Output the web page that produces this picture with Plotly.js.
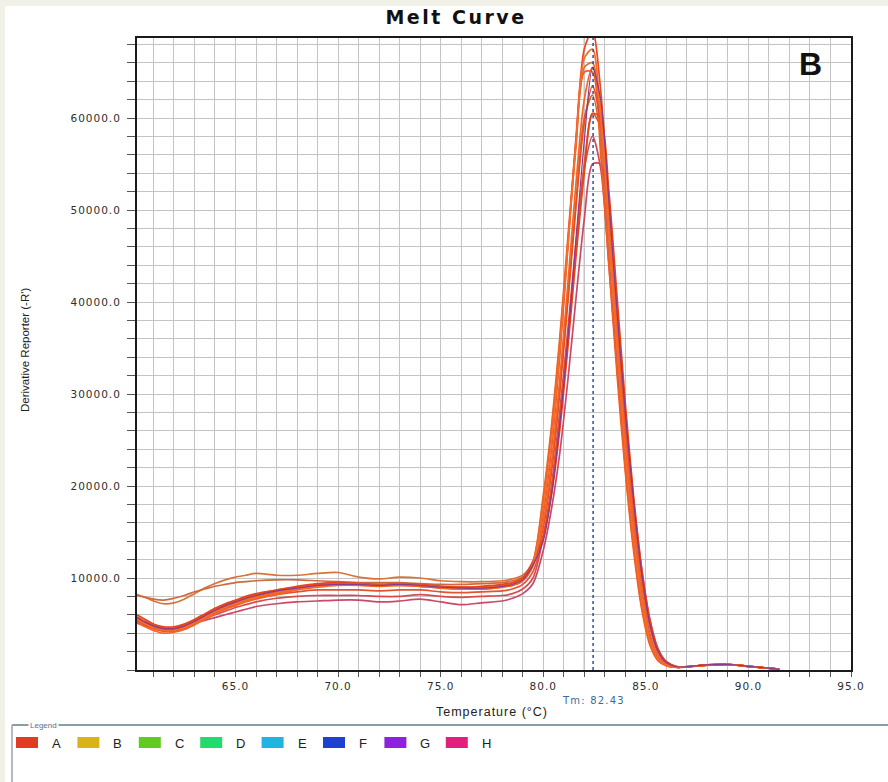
<!DOCTYPE html>
<html><head><meta charset="utf-8">
<script src="https://cdn.plot.ly/plotly-3.0.1.min.js"></script>
<style>html,body{margin:0;padding:0;background:#fff;} #chart{width:888px;height:782px;}</style>
</head><body><div id="chart"></div>
<script>
// Temperature grid (°C)
const temperature = [60.2, 60.6, 61.0, 61.5, 62.0, 62.5, 63.0, 63.5, 64.0, 64.5, 65.0, 65.5, 66.0, 67, 68, 69, 70, 71, 72, 73, 74, 75, 76, 77, 78, 78.5, 79.0, 79.5,
  80.0, 80.4, 80.8, 81.2, 81.6, 82.0, 82.4, 82.8, 83.2, 83.6, 84.0, 84.4, 84.8, 85.2, 85.6, 86.0, 86.5, 87, 88, 89, 90, 91, 91.5];

// Derivative reporter (-R') per well
const wellU1 = [8200, 7900, 7500, 7200, 7300, 7700, 8300, 8900, 9400, 9800, 10100, 10300, 10500, 10300, 10300, 10500, 10600, 10100, 9900, 10100, 10000, 9700, 9600, 9600, 9700, 9900, 10300, 11800,
  19000, 26500, 36000, 47000, 57500, 65500, 66000, 57000, 45000, 33000, 22000, 13500, 7000, 2900, 1100, 500, 300, 350, 550, 600, 400, 200, 60];
const wellU2 = [8100, 7900, 7700, 7600, 7800, 8100, 8500, 8800, 9100, 9300, 9500, 9600, 9700, 9800, 9800, 9700, 9600, 9500, 9500, 9500, 9400, 9300, 9300, 9400, 9500, 9700, 10100, 11600,
  15800, 21800, 30500, 40500, 51000, 60000, 62500, 58000, 47000, 35500, 24500, 15500, 8500, 3600, 1400, 600, 300, 350, 550, 600, 400, 200, 60];
const wellM1 = [5600, 5100, 4700, 4400, 4400, 4700, 5200, 5800, 6400, 6900, 7300, 7700, 8000, 8500, 8900, 9200, 9300, 9300, 9200, 9300, 9200, 9000, 8900, 8900, 9100, 9300, 9800, 11500,
  17000, 24000, 34000, 46000, 58000, 67500, 69500, 63000, 50000, 37000, 25500, 16000, 8500, 3600, 1400, 550, 300, 350, 550, 600, 400, 200, 60];
const wellM2 = [5800, 5300, 4900, 4600, 4600, 4900, 5400, 6000, 6600, 7100, 7500, 7900, 8200, 8700, 9000, 9300, 9400, 9400, 9300, 9400, 9300, 9100, 9000, 9000, 9200, 9400, 9900, 11700,
  18500, 26000, 35500, 46500, 57000, 65000, 65000, 56000, 44000, 32000, 21500, 13000, 6600, 2700, 1000, 450, 280, 330, 520, 580, 380, 180, 50];
const wellM3 = [5400, 4900, 4500, 4200, 4200, 4500, 5000, 5600, 6200, 6700, 7100, 7500, 7800, 8300, 8800, 9100, 9300, 9300, 9200, 9200, 9100, 8900, 8800, 8800, 9000, 9200, 9700, 11400,
  15500, 21500, 30000, 40000, 50500, 59500, 63500, 59500, 48000, 36000, 25000, 16000, 8800, 3800, 1500, 600, 300, 350, 550, 600, 400, 200, 60];
const wellM4 = [5200, 4700, 4300, 4000, 4100, 4400, 4900, 5500, 6100, 6600, 7000, 7400, 7700, 8200, 8700, 9000, 9200, 9200, 9100, 9200, 9100, 8900, 8800, 8800, 9000, 9200, 9700, 11300,
  16000, 22500, 31500, 42000, 53000, 62000, 65500, 61000, 49000, 36500, 25000, 16000, 8700, 3700, 1500, 600, 300, 350, 550, 600, 400, 200, 60];
const wellM5 = [6000, 5500, 5000, 4700, 4700, 5000, 5500, 6100, 6700, 7200, 7600, 8000, 8300, 8700, 9100, 9400, 9500, 9400, 9300, 9400, 9300, 9100, 9000, 9100, 9300, 9500, 10000, 11800,
  14500, 19000, 26000, 35000, 45000, 54000, 60500, 60000, 52000, 40500, 29000, 19000, 11000, 5400, 2200, 900, 380, 360, 540, 600, 400, 200, 60];
const wellM6 = [5500, 5000, 4600, 4300, 4300, 4600, 5100, 5700, 6300, 6800, 7200, 7600, 7900, 8400, 8800, 9100, 9300, 9300, 9200, 9300, 9200, 9000, 8800, 8900, 9100, 9300, 9800, 11500,
  17500, 24500, 34500, 46000, 57500, 66500, 67500, 60000, 47500, 35000, 23500, 14500, 7800, 3200, 1200, 500, 300, 340, 540, 600, 400, 200, 60];
const wellL1 = [5100, 4800, 4600, 4500, 4600, 4800, 5100, 5400, 5700, 6000, 6300, 6600, 6900, 7200, 7400, 7500, 7600, 7600, 7400, 7500, 7700, 7400, 7100, 7300, 7500, 7800, 8300, 9400,
  13000, 17500, 23500, 31500, 40500, 49000, 55000, 55000, 48000, 37500, 27500, 18500, 11000, 5500, 2300, 900, 380, 360, 540, 600, 400, 200, 60];
const wellL2 = [5300, 4900, 4600, 4400, 4500, 4800, 5200, 5600, 6000, 6400, 6800, 7100, 7400, 7800, 8000, 8100, 8100, 8100, 8000, 8000, 8200, 8000, 7900, 8000, 8100, 8300, 8800, 10000,
  14500, 20000, 28000, 37000, 46500, 54500, 58000, 54500, 44000, 33000, 23000, 14800, 8200, 3500, 1400, 580, 300, 350, 550, 600, 400, 200, 60];
const wellL3 = [5500, 5000, 4700, 4500, 4600, 4900, 5300, 5800, 6300, 6800, 7200, 7500, 7800, 8200, 8500, 8700, 8700, 8700, 8600, 8700, 8700, 8500, 8400, 8500, 8600, 8800, 9300, 10700,
  14500, 19500, 27000, 36000, 46000, 55000, 60500, 59000, 49500, 38000, 27000, 17500, 10000, 4600, 1900, 800, 350, 360, 550, 600, 400, 200, 60];
const wellP1 = [5700, 5200, 4800, 4500, 4500, 4800, 5300, 5900, 6500, 7000, 7400, 7800, 8100, 8600, 8900, 9200, 9300, 9300, 9200, 9300, 9200, 9000, 8900, 8900, 9100, 9300, 9800, 11400,
  14000, 19000, 26500, 36000, 47000, 57500, 65500, 62000, 51000, 39000, 28000, 18500, 10500, 5000, 2000, 800, 350, 360, 550, 600, 400, 200, 60];

const wellSeries = [wellU1, wellU2, wellL1, wellL2, wellL3, wellM1, wellM2, wellM3, wellM4, wellM5, wellM6, wellP1];
const wellColors = ['#d8743a', '#d06a3c', '#cc4868', '#d44c50', '#e05430', '#ec4a1c', '#f45e22', '#e84e1e', '#f26428', '#e8441a', '#f56c2c', '#8a3a8c'];

const legendLabels = ['A', 'B', 'C', 'D', 'E', 'F', 'G', 'H'];
const legendColors = ['#e03c20', '#d8b418', '#60cc20', '#20dc6c', '#20b4e0', '#2040d0', '#9020e0', '#e0207c'];

const xTickValues = [65, 70, 75, 80, 85, 90, 95];
const xTickLabels = ['65.0', '70.0', '75.0', '80.0', '85.0', '90.0', '95.0'];
const yTickValues = [10000, 20000, 30000, 40000, 50000, 60000];
const yTickLabels = ['10000.0', '20000.0', '30000.0', '40000.0', '50000.0', '60000.0'];

const tmValue = 82.43;
const tmLabel = 'Tm: 82.43';
const thresholdX = 82.0;

// ---- geometry helpers (pixel -> paper) ----
const L = 137, R = 851, T = 38, B = 670;
const px2x = p => (p - L) / (R - L);
const py2y = p => (B - p) / (B - T);
const spaced = (s, ls) => '<span style="letter-spacing:' + ls + 'px">' + s + '</span>';

const traces = wellSeries.map((ys, i) => ({
  type: 'scatter', mode: 'lines', x: temperature, y: ys,
  line: { color: wellColors[i], width: i === wellSeries.length - 1 ? 1.2 : 1.7, shape: 'spline', smoothing: 0.8 },
  hoverinfo: 'skip'
}));

const shapes = [
  { type: 'line', xref: 'x', yref: 'paper', x0: thresholdX, x1: thresholdX, y0: 0, y1: 1, line: { color: '#6cc47e', width: 1.2 }, layer: 'below' },
  { type: 'line', xref: 'x', yref: 'paper', x0: tmValue, x1: tmValue, y0: 0, y1: 1, line: { color: '#2c4f9a', width: 1.5, dash: 'dot' } },
  // outer light frame
  { type: 'rect', xref: 'paper', yref: 'paper', x0: px2x(0), x1: px2x(888), y0: py2y(0), y1: py2y(6), fillcolor: '#f1f1e8', line: { width: 0 } },
  { type: 'rect', xref: 'paper', yref: 'paper', x0: px2x(0), x1: px2x(5), y0: py2y(0), y1: py2y(782), fillcolor: '#f1f1e8', line: { width: 0 } },
  // legend group box
  { type: 'line', xref: 'paper', yref: 'paper', x0: px2x(12), x1: px2x(888), y0: py2y(725), y1: py2y(725), line: { color: '#8a9ea6', width: 2 } },
  { type: 'line', xref: 'paper', yref: 'paper', x0: px2x(12), x1: px2x(12), y0: py2y(725), y1: py2y(782), line: { color: '#9aa4a8', width: 1.5 } }
];

const annotations = [
  { text: '<b>B</b>', xref: 'paper', yref: 'paper', x: px2x(810), y: py2y(64), xanchor: 'center', yanchor: 'middle', showarrow: false,
    font: { family: 'Liberation Sans, Arial', size: 32, color: '#111' } },
  { text: spaced('Temperature (°C)', 1), xref: 'paper', yref: 'paper', x: px2x(492), y: py2y(712), xanchor: 'center', yanchor: 'middle', showarrow: false,
    font: { family: 'Liberation Sans, Arial', size: 12.5, color: '#222' } },
  { text: "Derivative Reporter (-R')", textangle: -90, xref: 'paper', yref: 'paper', x: px2x(25), y: py2y(350), xanchor: 'center', yanchor: 'middle', showarrow: false,
    font: { family: 'Liberation Sans, Arial', size: 11.5, color: '#222' } },
  { text: spaced(tmLabel, 1.2), xref: 'x', yref: 'paper', x: tmValue, y: py2y(700), xanchor: 'center', yanchor: 'middle', showarrow: false,
    font: { family: 'DejaVu Sans', size: 10, color: '#3c6aa0' } },
  { text: 'Legend', xref: 'paper', yref: 'paper', x: px2x(28), y: py2y(725), xanchor: 'left', yanchor: 'middle', showarrow: false,
    bgcolor: '#ffffff', borderpad: 1, font: { family: 'Liberation Sans, Arial', size: 8, color: '#5a6f8a' } }
];

legendLabels.forEach((lab, i) => {
  const left = 16 + i * 61.4;
  shapes.push({ type: 'rect', xref: 'paper', yref: 'paper', x0: px2x(left), x1: px2x(left + 22), y0: py2y(748), y1: py2y(737),
    fillcolor: legendColors[i], line: { width: 0 } });
  annotations.push({ text: lab, xref: 'paper', yref: 'paper', x: px2x(left + 34), y: py2y(743), xanchor: 'left', yanchor: 'middle', showarrow: false,
    font: { family: 'Liberation Sans, Arial', size: 13, color: '#222' } });
});

const layout = {
  width: 888, height: 782,
  margin: { l: L, r: 888 - R, t: T, b: 782 - B, pad: 0 },
  paper_bgcolor: '#ffffff', plot_bgcolor: '#ffffff',
  showlegend: false,
  title: { text: spaced('Melt Curve', 2.5), xref: 'container', yref: 'container', x: 456 / 888, y: 1 - 17 / 782, xanchor: 'center', yanchor: 'middle',
    font: { family: 'DejaVu Sans', size: 19, weight: 'bold', color: '#111' } },
  xaxis: {
    range: [60.2, 95], tickmode: 'array', tickvals: xTickValues, ticktext: xTickLabels.map(s => spaced(s, 1)),
    ticks: 'outside', ticklen: 5, tickcolor: '#555', tickwidth: 1,
    showgrid: true, gridcolor: '#c4c4c4', gridwidth: 1,
    minor: { tickmode: 'linear', tick0: 60, dtick: 1, showgrid: true, gridcolor: '#c4c4c4', gridwidth: 1, ticks: 'outside', ticklen: 5, tickcolor: '#555' },
    showline: true, linecolor: '#1a1a1a', linewidth: 2, mirror: true, zeroline: false,
    tickfont: { family: 'DejaVu Sans', size: 10.5, color: '#2e2e2e' }
  },
  yaxis: {
    range: [0, 68700], tickmode: 'array', tickvals: yTickValues, ticktext: yTickLabels.map(s => spaced(s, 1)),
    ticks: 'outside', ticklen: 8, tickcolor: '#555', tickwidth: 1, ticklabelstandoff: 4,
    showgrid: true, gridcolor: '#c4c4c4', gridwidth: 1,
    minor: { tickmode: 'linear', tick0: 0, dtick: 2000, showgrid: true, gridcolor: '#c4c4c4', gridwidth: 1, ticks: 'outside', ticklen: 8, tickcolor: '#555' },
    showline: true, linecolor: '#1a1a1a', linewidth: 2, mirror: true, zeroline: false,
    tickfont: { family: 'DejaVu Sans', size: 10.5, color: '#2e2e2e' }
  },
  shapes: shapes,
  annotations: annotations
};

Plotly.newPlot('chart', traces, layout, { displayModeBar: false, staticPlot: true });
</script>
</body></html>
